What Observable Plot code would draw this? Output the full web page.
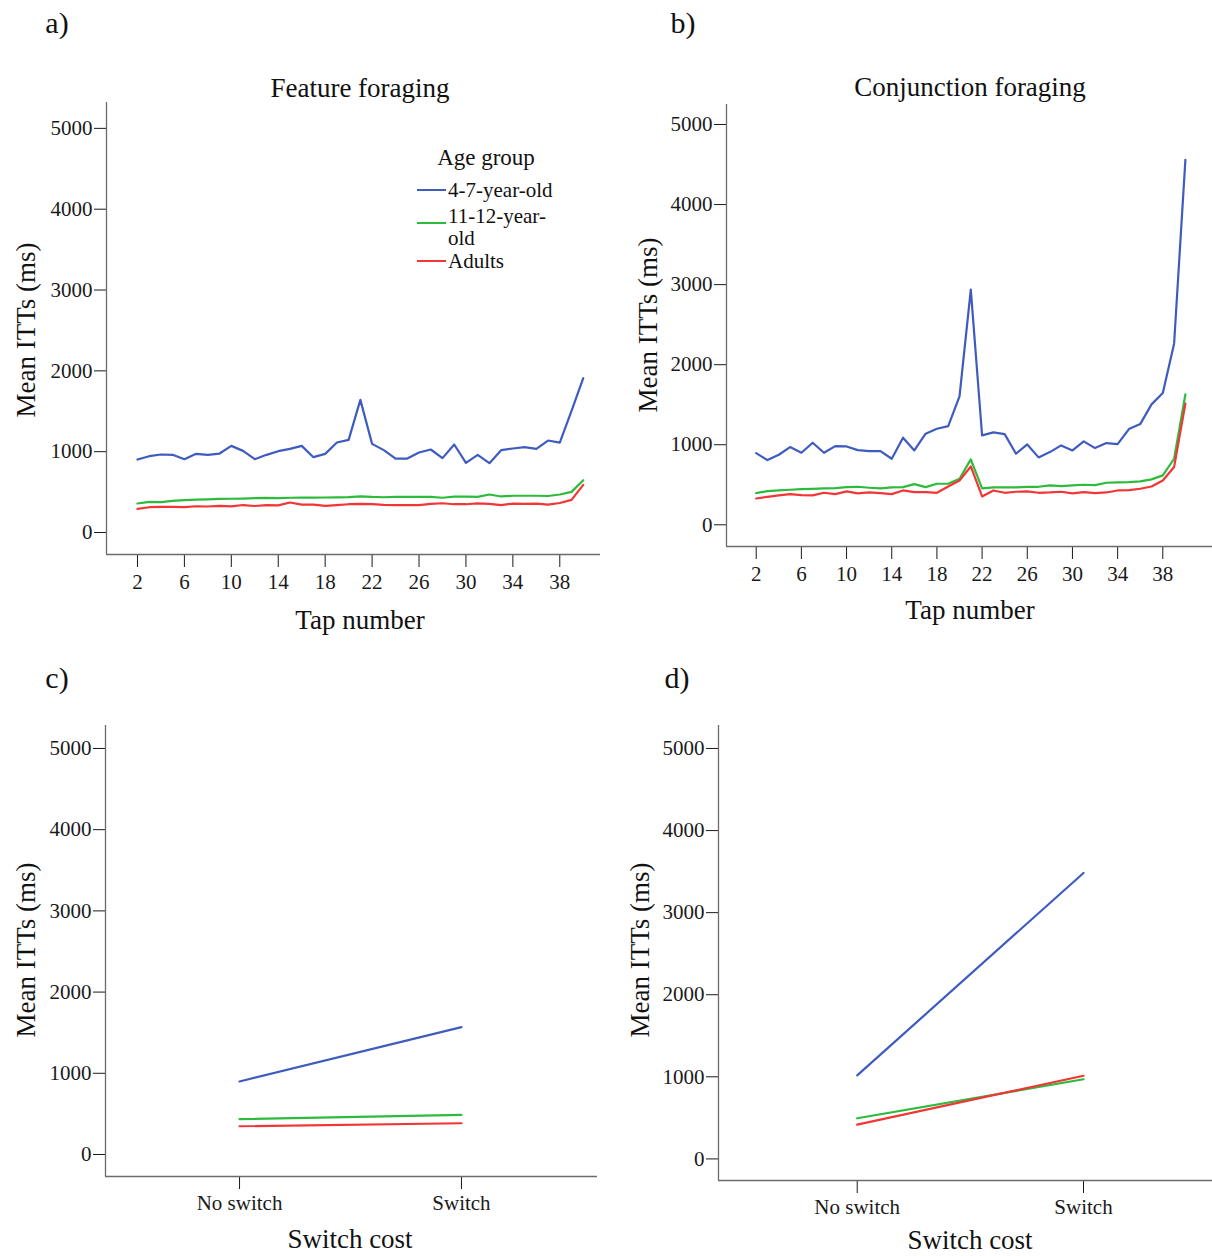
<!DOCTYPE html>
<html>
<head>
<meta charset="utf-8">
<script src="https://cdn.jsdelivr.net/npm/d3@7"></script>
<script src="https://cdn.jsdelivr.net/npm/@observablehq/plot@0.6"></script>
<style>
  html, body { margin: 0; padding: 0; background: #fff; }
  #root { position: relative; width: 1212px; height: 1256px; overflow: hidden; font-family: "Liberation Serif", "Times New Roman", serif; color: #111; }
  .pl { position: absolute; }
  .t { position: absolute; white-space: nowrap; line-height: 1; transform: translate(-50%, -50%); }
  .yl { position: absolute; white-space: nowrap; line-height: 1; transform: translate(-50%, -50%) rotate(-90deg); }
  .leg { position: absolute; font-size: 21px; line-height: 22px; }
  .sw { position: absolute; height: 0; border-top: 2px solid; width: 29px; }
</style>
</head>
<body>
<div id="root"></div>
<script>
// ---- data ----
const groups = ["4-7-year-old", "11-12-year-old", "Adults"];
const groupColors = ["#3f5bbf", "#2dbb3c", "#f23535"];
const taps = [2,3,4,5,6,7,8,9,10,11,12,13,14,15,16,17,18,19,20,21,22,23,24,25,26,27,28,29,30,31,32,33,34,35,36,37,38,39,40];
const tapTicks = [2,6,10,14,18,22,26,30,34,38];
const yTicks = [0,1000,2000,3000,4000,5000];

// a) Feature foraging
const featureYoung = [903,944,965,961,907,973,961,977,1072,1010,907,961,1006,1035,1072,932,973,1113,1146,1641,1097,1019,915,915,990,1027,920,1089,862,961,858,1019,1039,1056,1035,1138,1113,1505,1909];
const featureOlder = [359,379,377,392,400,406,410,415,418,420,425,428,425,430,432,432,433,435,437,448,440,436,440,442,442,440,430,445,445,440,470,446,455,455,455,452,470,503,647];
const featureAdult = [293,313,318,318,315,325,322,330,323,340,328,338,336,371,345,345,330,340,350,355,350,343,340,340,340,355,362,350,350,360,355,338,358,355,358,345,365,404,590];

// b) Conjunction foraging
const conjYoung = [896,808,875,971,900,1025,900,983,979,933,921,921,825,1088,929,1138,1200,1233,1604,2938,1117,1154,1133,888,1004,842,908,992,929,1042,958,1021,1008,1196,1258,1504,1646,2263,4560];
const conjOlder = [396,421,429,438,446,450,454,458,471,475,463,454,467,471,508,471,513,513,575,817,454,467,467,467,475,475,492,483,492,500,496,525,529,533,542,567,617,825,1629];
const conjAdult = [329,350,367,383,371,367,400,383,417,392,404,396,383,429,408,408,400,479,554,729,354,429,400,413,417,400,404,413,392,408,396,404,429,433,450,479,554,721,1513];

// c) / d) Switch cost
const switchLabels = ["No switch", "Switch"];
const featSwitchYoung = [899, 1568];
const featSwitchOlder = [435, 489];
const featSwitchAdult = [348, 385];
const conjSwitchYoung = [1018, 3483];
const conjSwitchOlder = [495, 970];
const conjSwitchAdult = [417, 1013];

// ---- build tables ----
function tapRows(series) {
  const rows = [];
  series.forEach((vals, gi) => vals.forEach((v, i) => rows.push({x: taps[i], y: v, group: groups[gi]})));
  return rows;
}
function switchRows(series) {
  const rows = [];
  series.forEach((vals, gi) => vals.forEach((v, i) => rows.push({x: i, y: v, group: groups[gi]})));
  return rows;
}

const root = document.getElementById("root");

function panel(cfg) {
  const p = Plot.plot({
    width: cfg.width, height: cfg.height,
    marginLeft: cfg.ml, marginRight: cfg.mr, marginTop: cfg.mt, marginBottom: cfg.mb,
    style: {fontFamily: '"Liberation Serif", "Times New Roman", serif', fontSize: "21px", color: "#1a1a1a", background: "transparent", overflow: "visible"},
    x: {domain: cfg.xDomain, ticks: cfg.xTicks, tickFormat: cfg.xFormat, tickSize: 13, tickPadding: cfg.xPad, label: null},
    y: {domain: cfg.yDomain, ticks: yTicks, tickFormat: d => String(d), tickSize: 12, tickPadding: 2, label: null},
    color: {domain: groups, range: groupColors},
    marks: [
      Plot.ruleX([cfg.xDomain[0]], {stroke: "#6b6b6b", strokeWidth: 1.3}),
      Plot.ruleY([cfg.yDomain[0]], {stroke: "#6b6b6b", strokeWidth: 1.3}),
      Plot.line(cfg.data, {x: "x", y: "y", z: "group", stroke: "group", strokeWidth: 2.2})
    ]
  });
  p.classList.add("pl");
  p.style.left = cfg.left + "px";
  p.style.top = cfg.top + "px";
  root.appendChild(p);
}

panel({left: 0, top: 0, width: 610, height: 640, ml: 106, mr: 10, mt: 102, mb: 86,
  xDomain: [-0.64, 41.47], yDomain: [-272, 5320], xTicks: tapTicks, xFormat: d => String(d), xPad: 7,
  data: tapRows([featureYoung, featureOlder, featureAdult])});
panel({left: 610, top: 0, width: 602, height: 640, ml: 116, mr: 0, mt: 104, mb: 94,
  xDomain: [-0.63, 42.4], yDomain: [-271, 5250], xTicks: tapTicks, xFormat: d => String(d), xPad: 7,
  data: tapRows([conjYoung, conjOlder, conjAdult])});
panel({left: 0, top: 650, width: 610, height: 606, ml: 105, mr: 13, mt: 75, mb: 80,
  xDomain: [-0.604, 1.613], yDomain: [-271, 5283], xTicks: [0, 1], xFormat: i => switchLabels[i], xPad: 6,
  data: switchRows([featSwitchYoung, featSwitchOlder, featSwitchAdult])});
panel({left: 610, top: 650, width: 602, height: 606, ml: 108, mr: 0, mt: 75, mb: 76,
  xDomain: [-0.613, 1.57], yDomain: [-263, 5280], xTicks: [0, 1], xFormat: i => switchLabels[i], xPad: 6,
  data: switchRows([conjSwitchYoung, conjSwitchOlder, conjSwitchAdult])});

// ---- text ----
function txt(s, x, y, size, cls) {
  const d = document.createElement("div");
  d.className = cls || "t";
  d.textContent = s;
  d.style.left = x + "px";
  d.style.top = y + "px";
  d.style.fontSize = size + "px";
  root.appendChild(d);
  return d;
}
txt("a)", 57, 23, 30);
txt("b)", 683, 23, 30);
txt("c)", 57, 678, 30);
txt("d)", 677, 678, 30);
txt("Feature foraging", 360, 88, 27);
txt("Conjunction foraging", 970, 87, 27);
txt("Tap number", 360, 620, 27);
txt("Tap number", 970, 610, 27);
txt("Switch cost", 350, 1239, 27);
txt("Switch cost", 970, 1240, 27);
txt("Mean ITTs (ms)", 26, 330, 27, "yl");
txt("Mean ITTs (ms)", 648, 325, 27, "yl");
txt("Mean ITTs (ms)", 26, 950, 27, "yl");
txt("Mean ITTs (ms)", 640, 950, 27, "yl");

// ---- legend ----
txt("Age group", 486, 157, 23);
const legendLines = [["4-7-year-old"], ["11-12-year-", "old"], ["Adults"]];
const legendY = [190, 216, 261];
const swatchY = [190, 223, 261];
legendLines.forEach((lines, i) => {
  const sw = document.createElement("div");
  sw.className = "sw";
  sw.style.borderTopColor = groupColors[i];
  sw.style.left = "417px";
  sw.style.top = (swatchY[i] - 1) + "px";
  root.appendChild(sw);
  const d = document.createElement("div");
  d.className = "leg";
  d.style.left = "448px";
  d.style.top = (legendY[i] - 11) + "px";
  d.innerHTML = lines.join("<br>");
  root.appendChild(d);
});
</script>
</body>
</html>
